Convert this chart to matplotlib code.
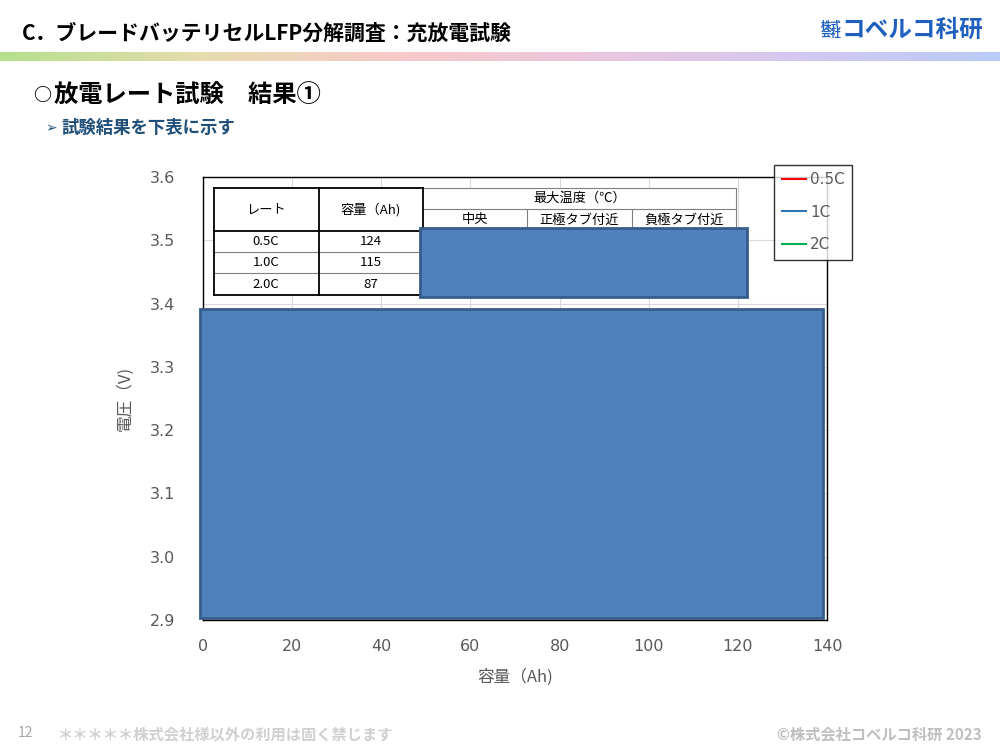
import numpy as np
import matplotlib.pyplot as plt
from matplotlib.patches import Rectangle
from matplotlib.lines import Line2D
from matplotlib.colors import LinearSegmentedColormap

plt.rcParams['font.family'] = ['Noto Sans CJK JP', 'DejaVu Sans']

# データ
series_names = ["0.5C", "1C", "2C"]
series_colors = ["#FF0000", "#2E75B6", "#00B050"]
rates = ["0.5C", "1.0C", "2.0C"]
capacities = [124, 115, 87]
temp_cols = ["中央", "正極タブ付近", "負極タブ付近"]

x_ticks = [0, 20, 40, 60, 80, 100, 120, 140]
y_ticks = [2.9, 3.0, 3.1, 3.2, 3.3, 3.4, 3.5, 3.6]

# 隠しマスク (データ座標)
mask_big = (-0.7, 2.903, 139.1, 3.391)
mask_small = (48.7, 3.410, 122.1, 3.519)

W, H = 1000, 750
fig = plt.figure(figsize=(10, 7.5), dpi=100)


def fx(x):
    return x / W


def fy(y):
    return 1 - y / H


# タイトル
fig.text(fx(22), fy(33), "C．ブレードバッテリセルLFP分解調査：充放電試験",
         fontsize=15, fontweight='bold', va='center', ha='left')
fig.text(fx(831), fy(30), "株式\n会社", fontsize=7.5, fontweight='bold',
         color="#1F5FBF", va='center', ha='center', linespacing=0.85)
fig.text(fx(842), fy(30), "コベルコ科研", fontsize=17, fontweight='bold',
         color="#1F5FBF", va='center', ha='left')

# グラデーションライン
grad = LinearSegmentedColormap.from_list("g", ["#b5e08c", "#e6dcae", "#f7c9c9",
                                               "#eac6df", "#d3c8f0", "#b9cbf7"])
gax = fig.add_axes([0, fy(61), 1, (61 - 52) / H])
gax.imshow(np.linspace(0, 1, 256)[None, :], aspect='auto', cmap=grad)
gax.axis('off')

# 見出し
fig.text(fx(33), fy(96), "○", fontsize=13, fontweight='bold', va='center', ha='left')
fig.text(fx(54), fy(96), "放電レート試験　結果①", fontsize=17.5,
         fontweight='bold', va='center', ha='left')
fig.text(fx(45), fy(128), "➢", fontsize=10, color="#1F4E79",
         va='center', ha='left', family=['DejaVu Sans'])
fig.text(fx(61), fy(128), "試験結果を下表に示す", fontsize=12.5,
         fontweight='bold', color="#1F4E79", va='center', ha='left')

# グラフ
ax = fig.add_axes([fx(203), fy(620), (827 - 203) / W, (620 - 177) / H])
for name, c in zip(series_names, series_colors):
    ax.plot([], [], color=c, lw=1.5, label=name)
ax.set_xlim(0, 140)
ax.set_ylim(2.9, 3.6)
ax.set_xticks(x_ticks)
ax.set_yticks(y_ticks)
ax.set_yticklabels([f"{v:.1f}" for v in y_ticks])
ax.grid(True, color="#D9D9D9", lw=0.8)
ax.set_axisbelow(True)
ax.tick_params(length=0, labelsize=11.5, colors="#595959", pad=20)
for lab in ax.get_xticklabels() + ax.get_yticklabels():
    lab.set_family(['DejaVu Sans'])
ax.tick_params(axis='x', pad=14)
for s in ax.spines.values():
    s.set_color("black")
    s.set_linewidth(1.0)
ax.set_xlabel("容量（Ah)", fontsize=12, color="#595959", labelpad=10)
ax.set_ylabel("電圧（V)", fontsize=12, color="#595959", labelpad=12)

leg = ax.legend(loc='upper left', bbox_to_anchor=(fx(774 - 203) / ((827 - 203) / W), 1.028),
                prop={'family': ['DejaVu Sans'], 'size': 11},
                frameon=True, fancybox=False, handlelength=1.6,
                handletextpad=0.25, labelspacing=1.15, borderpad=0.5, borderaxespad=0)
leg.get_frame().set_edgecolor("black")
leg.get_frame().set_linewidth(1.0)
for t in leg.get_texts():
    t.set_color("#595959")

# 表
col_x = [214, 319, 423, 527, 632, 736]
row_y = [188, 209, 231, 252, 273, 295]
thick = dict(color="black", lw=1.3)
thin = dict(color="#7F7F7F", lw=0.8)


def hline(x0, x1, y, **kw):
    fig.add_artist(Line2D([fx(x0), fx(x1)], [fy(y), fy(y)], **kw))


def vline(x, y0, y1, **kw):
    fig.add_artist(Line2D([fx(x), fx(x)], [fy(y0), fy(y1)], **kw))


fig.add_artist(Rectangle((fx(214), fy(295)), fx(736 - 214), (295 - 188) / H,
                         facecolor="white", edgecolor="none"))
hline(214, 423, 188, **thick)
hline(423, 736, 188, **thin)
hline(423, 736, 209, **thin)
hline(214, 423, 231, **thick)
hline(423, 736, 231, **thin)
hline(214, 423, 252, **thin)
hline(214, 423, 273, **thin)
hline(214, 423, 295, **thick)
vline(214, 188, 295, **thick)
vline(319, 188, 295, **thick)
vline(423, 188, 295, **thick)
vline(527, 209, 231, **thin)
vline(632, 209, 231, **thin)
vline(736, 188, 231, **thin)

tfs = 9.5
fig.text(fx(266), fy(210), "レート", fontsize=tfs, ha='center', va='center')
fig.text(fx(371), fy(210), "容量（Ah)", fontsize=tfs, ha='center', va='center')
fig.text(fx(580), fy(198), "最大温度（℃）", fontsize=tfs, ha='center', va='center')
for i, name in enumerate(temp_cols):
    fig.text(fx((col_x[i + 2] + col_x[i + 3]) / 2), fy(220), name,
             fontsize=tfs, ha='center', va='center')
for i, (r, c) in enumerate(zip(rates, capacities)):
    yc = (row_y[i + 2] + row_y[i + 3]) / 2
    fig.text(fx(266), fy(yc), r, fontsize=tfs, ha='center', va='center')
    fig.text(fx(371), fy(yc), str(c), fontsize=tfs, ha='center', va='center')

# マスク (表より上に描く)
for x0, y0, x1, y1 in (mask_big, mask_small):
    fig.add_artist(Rectangle((x0, y0), x1 - x0, y1 - y0, transform=ax.transData,
                             facecolor="#4F81BD", edgecolor="#385D8A", lw=2,
                             zorder=10))

# フッター
fig.text(fx(18), fy(733), "12", fontsize=10, color="#A6A6A6", va='center', ha='left')
fig.text(fx(58), fy(734), "＊＊＊＊＊株式会社様以外の利用は固く禁じます", fontsize=11,
         fontweight='bold', color="#D0D0D0", va='center', ha='left')
fig.text(fx(982), fy(734), "©株式会社コベルコ科研 2023", fontsize=11,
         fontweight='bold', color="#BFBFBF", va='center', ha='right')

fig.savefig("out.png", dpi=100)
